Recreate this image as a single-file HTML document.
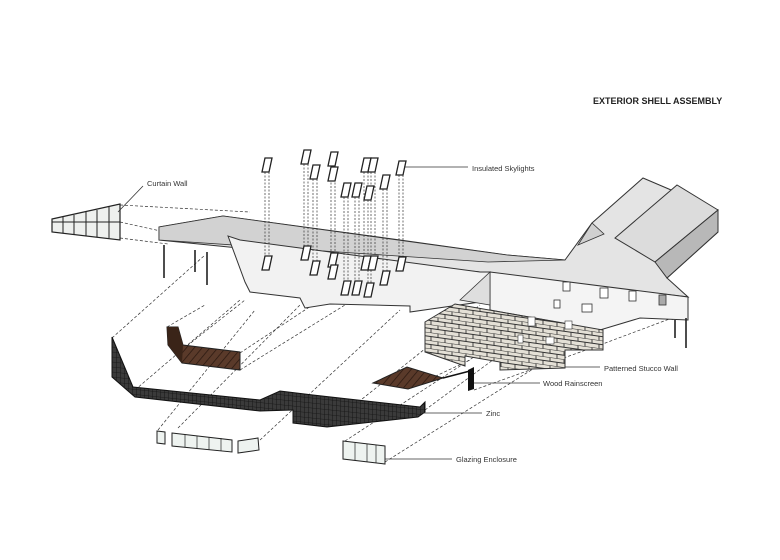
<!DOCTYPE html>
<html><head><meta charset="utf-8"><style>
html,body{margin:0;padding:0;background:#fff;}
svg{display:block;}
text{font-family:"Liberation Sans",sans-serif;fill:#333;}
</style></head><body>
<svg width="780" height="560" viewBox="0 0 780 560" xmlns="http://www.w3.org/2000/svg">
<defs>
<pattern id="brick" width="14" height="8" patternUnits="userSpaceOnUse" patternTransform="skewY(8)">
<rect width="14" height="8" fill="#e4e0d6"/>
<path d="M0 0H14M0 4H14M4 0V4M11 4V8" stroke="#333" stroke-width="0.9"/>
</pattern>
<pattern id="zinc" width="4" height="5" patternUnits="userSpaceOnUse" patternTransform="skewY(6)">
<rect width="4" height="5" fill="#3a3a3a"/>
<path d="M0 0H4M0 0V5" stroke="#111" stroke-width="0.8"/>
</pattern>
<pattern id="wood" width="6" height="6" patternUnits="userSpaceOnUse" patternTransform="rotate(40)">
<rect width="6" height="6" fill="#5a3a2a"/>
<path d="M0 0V6" stroke="#2a1810" stroke-width="1.5"/>
</pattern>
<g id="sky"><path d="M-2,-7 L5,-7 L2,7 L-5,7 Z" fill="#fff" stroke="#222" stroke-width="1.3"/></g>
</defs>

<!-- dashed projection lines -->
<g stroke="#333" stroke-width="0.7" stroke-dasharray="3,2" fill="none">
<path d="M120,205 L250,212"/><path d="M120,222 L165,232"/><path d="M120,238 L168,244"/>
<path d="M112,338 L205,255"/><path d="M135,390 L240,300"/><path d="M158,430 L255,310"/>
<path d="M178,428 L300,305"/><path d="M240,353 L320,300"/><path d="M240,370 L345,305"/>
<path d="M260,440 L400,310"/><path d="M327,427 L480,305"/><path d="M345,441 L500,340"/>
<path d="M385,462 L560,352"/><path d="M408,389 L470,360"/><path d="M425,410 L520,340"/>
<path d="M474,390 L600,345"/><path d="M600,345 L672,318"/><path d="M688,297 L672,320"/>
<path d="M167,327 L205,305"/><path d="M183,349 L245,300"/>
</g>

<!-- roof -->
<polygon points="159,227 223,216 400,240 507,255 565,260 592,223 643,178 718,210 718,232 667,278 688,297 480,272 159,240" fill="#e4e4e4" stroke="#333" stroke-width="1"/>
<polygon points="159,227 223,216 507,255 565,260 488,262 159,240" fill="#d2d2d2" stroke="#333" stroke-width="0.8"/>
<polygon points="615,238 677,185 718,210 655,262" fill="#dcdcdc" stroke="#333" stroke-width="1"/>
<polygon points="655,262 718,210 718,232 667,278" fill="#b8b8b8" stroke="#333" stroke-width="1"/>
<polygon points="578,245 592,223 604,234" fill="#d0d0d0" stroke="#333" stroke-width="0.8"/>
<!-- facade -->
<polygon points="228,236 245,282 250,292 300,298 305,308 330,304 410,306 410,312 480,302 490,272 480,272 240,240" fill="#f2f2f2" stroke="#333" stroke-width="1"/>
<polygon points="490,272 688,297 688,320 640,318 600,330 490,310" fill="#f4f4f4" stroke="#333" stroke-width="1"/>
<polygon points="460,300 490,272 490,305" fill="#dedede" stroke="#333" stroke-width="0.8"/>
<g fill="#fff" stroke="#333" stroke-width="0.8">
<rect x="563" y="282" width="7" height="9"/><rect x="600" y="288" width="8" height="10"/><rect x="629" y="291" width="7" height="10"/>
<rect x="659" y="295" width="7" height="10" fill="#aaa"/><rect x="554" y="300" width="6" height="8"/><rect x="582" y="304" width="10" height="8"/>
</g>
<!-- posts -->
<g stroke="#222" stroke-width="1.6">
<path d="M164,245V278"/><path d="M195,250V272"/><path d="M207,252V285"/><path d="M675,320V338"/><path d="M686,318V348"/>
</g>
<!-- stucco wall -->
<polygon points="425,322 455,304 603,330 603,350 565,350 565,368 500,370 500,362 465,356 465,366 425,352" fill="url(#brick)" stroke="#333" stroke-width="1"/>
<g fill="#fff" stroke="#333" stroke-width="0.6"><rect x="528" y="317" width="7" height="9"/><rect x="565" y="321" width="7" height="8"/><rect x="518" y="335" width="5" height="8"/><rect x="546" y="337" width="8" height="7"/></g>

<!-- zinc -->
<polygon points="112,337 133,387 260,400 280,391 313,395 420,407 425,402 425,412 418,417 327,427 293,423 293,410 260,411 135,397 112,377" fill="url(#zinc)" stroke="#111" stroke-width="1"/>
<!-- wood -->
<polygon points="167,327 178,327 183,345 240,352 240,370 182,363 168,345" fill="url(#wood)" stroke="#222" stroke-width="1"/>
<polygon points="167,327 178,327 183,345 182,363 168,345" fill="#3a2418"/>
<polygon points="373,383 407,367 443,378 408,389" fill="url(#wood)" stroke="#222" stroke-width="1"/>
<path d="M443,378 L470,371" stroke="#111" stroke-width="1.5"/>
<polygon points="468,370 474,367 474,389 468,391" fill="#111"/>
<!-- glazing -->
<g fill="#eef3f0" stroke="#222" stroke-width="1">
<polygon points="157,431 165,432 165,444 157,443"/>
<polygon points="172,433 232,440 232,452 172,446"/>
<polygon points="238,441 258,438 259,450 238,453"/>
<polygon points="343,441 385,446 385,464 343,459"/>
</g>
<g stroke="#222" stroke-width="0.7"><path d="M185,434V447M197,436V448M209,437V450M221,438V451M355,443V460M367,444V462M376,445V463"/></g>

<!-- curtain wall -->
<polygon points="52,219 120,204 120,240 52,232" fill="#eef0ee" stroke="#222" stroke-width="1.2"/>
<g stroke="#222" stroke-width="1"><path d="M63,217V233M74,215V234M86,212V236M97,210V237M109,207V238M52,222L120,222"/></g>

<!-- skylights -->
<g stroke="#333" stroke-width="0.7" stroke-dasharray="2,1.5" fill="none">
<path d="M265,165V263M269,165V263M304,157V253M308,157V253M313,172V268M317,172V268M331,158V271M335,158V271M344,190V288M348,190V288M355,190V288M359,190V288M364,165V263M368,165V290M371,165V290M375,165V263M383,182V278M387,182V278M399,168V264M403,168V264"/>
</g>
<g>
<use href="#sky" x="267" y="165"/><use href="#sky" x="267" y="263"/>
<use href="#sky" x="306" y="157"/><use href="#sky" x="306" y="253"/>
<use href="#sky" x="315" y="172"/><use href="#sky" x="315" y="268"/>
<use href="#sky" x="333" y="159"/><use href="#sky" x="333" y="260"/>
<use href="#sky" x="333" y="174"/><use href="#sky" x="333" y="272"/>
<use href="#sky" x="346" y="190"/><use href="#sky" x="346" y="288"/>
<use href="#sky" x="357" y="190"/><use href="#sky" x="357" y="288"/>
<use href="#sky" x="366" y="165"/><use href="#sky" x="366" y="263"/>
<use href="#sky" x="373" y="165"/><use href="#sky" x="373" y="263"/>
<use href="#sky" x="369" y="193"/><use href="#sky" x="369" y="290"/>
<use href="#sky" x="385" y="182"/><use href="#sky" x="385" y="278"/>
<use href="#sky" x="401" y="168"/><use href="#sky" x="401" y="264"/>
</g>

<!-- leaders -->
<g stroke="#333" stroke-width="0.8" fill="none">
<path d="M118,212 L143,186"/><path d="M404,167 H468"/><path d="M565,367 H600"/>
<path d="M474,383 H540"/><path d="M423,413 H482"/><path d="M385,459 H452"/>
</g>
<text x="593" y="104" font-size="9" font-weight="bold" style="fill:#222">EXTERIOR SHELL ASSEMBLY</text>
<text x="147" y="186" font-size="7.5">Curtain Wall</text>
<text x="472" y="171" font-size="7.5">Insulated Skylights</text>
<text x="604" y="371" font-size="7.5">Patterned Stucco Wall</text>
<text x="543" y="386" font-size="7.5">Wood Rainscreen</text>
<text x="486" y="416" font-size="7.5">Zinc</text>
<text x="456" y="462" font-size="7.5">Glazing Enclosure</text>
</svg>
</body></html>
